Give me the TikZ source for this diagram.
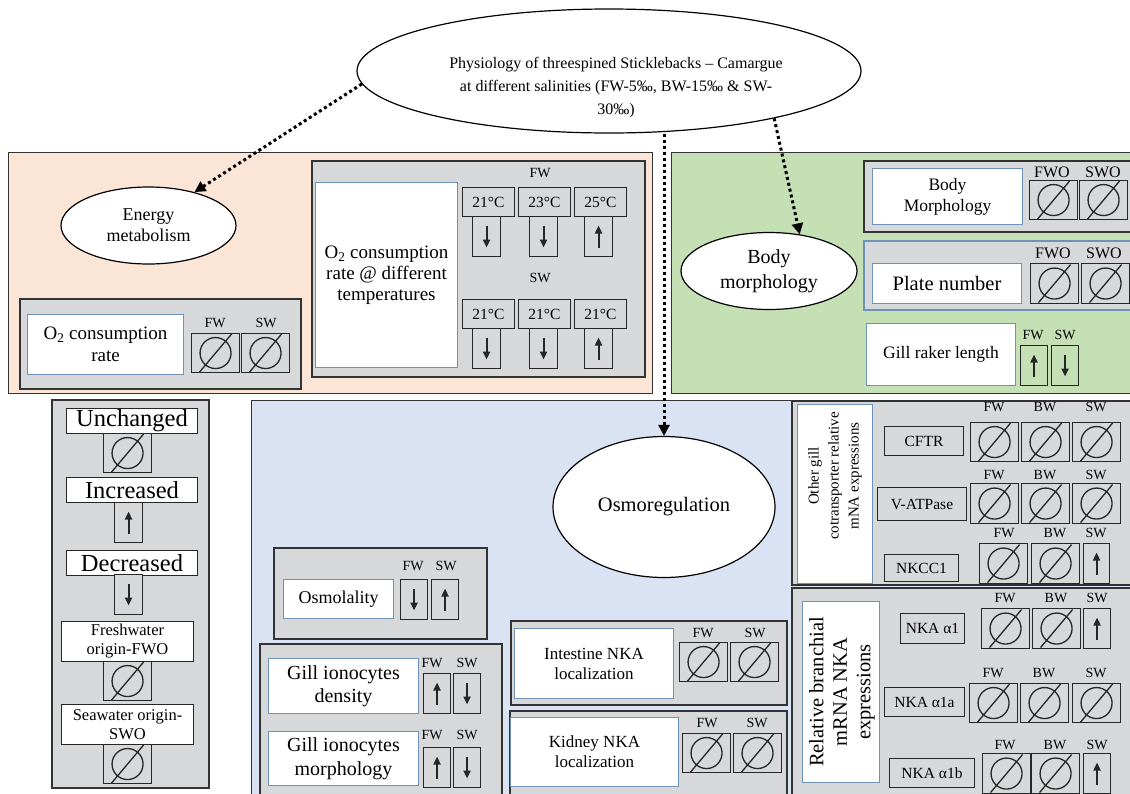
\documentclass[tikz,border=0pt]{standalone}
\usepackage{fontspec}
\setmainfont{Liberation Serif}
\usetikzlibrary{shapes.geometric,arrows.meta}
\definecolor{peach}{HTML}{FBE5D6}
\definecolor{leaf}{HTML}{C5E0B4}
\definecolor{sky}{HTML}{DAE3F3}
\definecolor{panelgray}{HTML}{D6D8D9}
\definecolor{boxblue}{HTML}{6F93B8}
\tikzset{
  fs/.style 2 args={font=\fontsize{#1}{#2}\selectfont},
  region/.style={draw=black!80, line width=1pt},
  panel/.style={draw=black!80, fill=panelgray, line width=1.2pt},
  oval/.style={ellipse, draw=black, fill=white, line width=1.2pt, inner sep=0pt, align=center},
  namebox/.style={draw=boxblue, fill=white, line width=1pt, anchor=north west, inner sep=0pt, align=center},
  keybox/.style={draw=black!85, fill=white, line width=1pt, anchor=north west, inner sep=0pt, align=center},
  genebox/.style={draw=black!85, fill=panelgray, line width=1pt, anchor=north west, inner sep=0pt, fs={15.5}{15.5}},
  tempbox/.style={genebox, minimum width=52pt, minimum height=29pt},
  tag/.style={inner sep=0pt, fs={14}{14}},
  cell/.style={draw=black!85, fill=panelgray, line width=1.1pt, anchor=north west, inner sep=0pt},
  nullcell/.style={cell, minimum width=48pt, minimum height=39pt, path picture={
      \draw[line width=1.3pt] (path picture bounding box.center) circle (15.5pt);
      \draw[line width=1.3pt] ([shift={(-16pt,-19pt)}]path picture bounding box.center)
        -- ([shift={(16pt,19pt)}]path picture bounding box.center);}},
  upcell/.style={cell, minimum width=27pt, minimum height=40pt, path picture={
      \draw[line width=2pt, -{Triangle[length=8pt,width=7pt]}]
        ([yshift=-11pt]path picture bounding box.center) -- ([yshift=11pt]path picture bounding box.center);}},
  downcell/.style={cell, minimum width=27pt, minimum height=40pt, path picture={
      \draw[line width=2pt, -{Triangle[length=8pt,width=7pt]}]
        ([yshift=11pt]path picture bounding box.center) -- ([yshift=-11pt]path picture bounding box.center);}},
  link/.style={line width=3pt, dash pattern=on 3pt off 3pt, -{Triangle[length=11pt,width=11pt]}}
}
\begin{document}
\begin{tikzpicture}[x=1pt,y=-1pt]
\useasboundingbox (0,0) rectangle (1130,793);
\clip (0,0) rectangle (1130,793);
\fill[white] (0,0) rectangle (1130,793);
% title
\node[oval, minimum width=504pt, minimum height=124pt] (phys) at (609,71) {};
\node[fs={16}{23}, align=center] (physlabel) at (616,88) {Physiology of threespined Sticklebacks -- Camargue\\at different salinities (FW-5‰, BW-15‰ \& SW-\\30‰)};
% three areas
\draw[region, fill=peach] (8,152) rectangle (652,393);
\draw[region, fill=leaf] (671,152) rectangle (1140,393);
\draw[region, fill=sky] (251,400) rectangle (1140,800);
% energy metabolism
\node[oval, minimum width=175pt, minimum height=77pt, fs={18}{21}] (energy) at (148.5,225.5) {Energy\\metabolism};
\draw[panel] (20,299) rectangle (301,389);
\node[namebox, minimum width=156pt, minimum height=60pt, fs={19}{22}] (o2rate) at (27,314) {O\textsubscript{2} consumption\\rate};
\node[tag] (o2fw) at (215,323) {FW};
\node[tag] (o2sw) at (266,323) {SW};
\node[nullcell] (o2fwc) at (191,333) {};
\node[nullcell] (o2swc) at (241,333) {};
\draw[panel] (312,161) rectangle (645,377);
\node[namebox, minimum width=142pt, minimum height=185pt, fs={19}{21}] (o2temp) at (315,182) {O\textsubscript{2} consumption\\rate @ different\\temperatures};
\node[tag] (tfw) at (540,173) {FW};
\node[tempbox] (fwa) at (462,187) {21°C};
\node[tempbox] (fwb) at (518,187) {23°C};
\node[tempbox] (fwc) at (574,187) {25°C};
\node[downcell, minimum width=28pt] (fwac) at (472,216) {};
\node[downcell, minimum width=28pt] (fwbc) at (529,216) {};
\node[upcell, minimum width=28pt] (fwcc) at (584,216) {};
\node[tag] (tsw) at (540,278) {SW};
\node[tempbox] (swa) at (462,299) {21°C};
\node[tempbox] (swb) at (518,299) {21°C};
\node[tempbox] (swc) at (574,299) {21°C};
\node[downcell, minimum width=28pt] (swac) at (472,328) {};
\node[downcell, minimum width=28pt] (swbc) at (529,328) {};
\node[upcell, minimum width=28pt] (swcc) at (584,328) {};
% body morphology
\node[oval, minimum width=176pt, minimum height=77pt, fs={20}{25}] (body) at (769,271) {Body\\morphology};
\draw[panel] (864,161) rectangle (1140,232);
\node[namebox, minimum width=150pt, minimum height=56pt, fs={17.5}{21}] (shape) at (872,168) {Body\\Morphology};
\node[tag, fs={16}{16}] (shapefwo) at (1052,172) {FWO};
\node[tag, fs={16}{16}] (shapeswo) at (1103,172) {SWO};
\node[nullcell] (shapefwoc) at (1029,180) {};
\node[nullcell] (shapeswoc) at (1079,180) {};
\draw[panel, draw=boxblue] (864,241) rectangle (1140,310);
\node[namebox, minimum width=149pt, minimum height=40pt, fs={20.5}{20.5}] (plates) at (872,263) {Plate number};
\node[tag, fs={16}{16}] (platesfwo) at (1053,253) {FWO};
\node[tag, fs={16}{16}] (platesswo) at (1104,253) {SWO};
\node[nullcell, minimum height=40pt] (platesfwoc) at (1030,263) {};
\node[nullcell, minimum height=40pt] (platesswoc) at (1081,263) {};
\node[namebox, minimum width=149pt, minimum height=62pt, fs={17.5}{17.5}] (raker) at (866,323) {Gill raker length};
\node[tag] (rakerfw) at (1033,335) {FW};
\node[tag] (rakersw) at (1065,335) {SW};
\node[upcell, fill=none] (rakerfwc) at (1020,345) {};
\node[downcell, fill=none] (rakerswc) at (1051,345) {};
% key
\draw[panel, line width=2pt] (52,400) rectangle (209,788);
\node[keybox, minimum width=131pt, minimum height=25pt, fs={24.5}{24.5}] (unchanged) at (66,408) {Unchanged};
\node[nullcell] (unchangedc) at (103,433) {};
\node[keybox, minimum width=131pt, minimum height=25pt, fs={24.5}{24.5}] (increased) at (66,477) {Increased};
\node[upcell, minimum width=28pt] (increasedc) at (114,502) {};
\node[keybox, minimum width=131pt, minimum height=25pt, fs={24.5}{24.5}] (decreased) at (66,550) {Decreased};
\node[downcell, minimum width=28pt] (decreasedc) at (114,574) {};
\node[keybox, minimum width=132pt, minimum height=40pt, fs={16.5}{19}] (fwokey) at (61,621) {Freshwater\\origin-FWO};
\node[nullcell] (fwokeyc) at (103,661) {};
\node[keybox, minimum width=132pt, minimum height=40pt, fs={16.5}{19}] (swokey) at (61,704) {Seawater origin-\\SWO};
\node[nullcell] (swokeyc) at (103,744) {};
% osmoregulation
\node[oval, minimum width=222pt, minimum height=141pt, fs={20.5}{20.5}] (osmo) at (664,507) {Osmoregulation};
\draw[panel] (274,548) rectangle (487,639);
\node[namebox, minimum width=110pt, minimum height=39pt, fs={18}{18}] (osmolality) at (283,579) {Osmolality};
\node[tag] (osmfw) at (413,566) {FW};
\node[tag] (osmsw) at (446,566) {SW};
\node[downcell] (osmfwc) at (400,579) {};
\node[upcell] (osmswc) at (431,579) {};
\draw[panel] (260,644) rectangle (502,800);
\node[namebox, minimum width=150pt, minimum height=55pt, fs={20}{23.5}] (density) at (268,658) {Gill ionocytes\\density};
\node[tag] (densfw) at (432,663) {FW};
\node[tag] (denssw) at (467,663) {SW};
\node[upcell] (densfwc) at (423,673) {};
\node[downcell] (densswc) at (453,673) {};
\node[namebox, minimum width=150pt, minimum height=54pt, fs={20}{23.5}] (morph) at (268,731) {Gill ionocytes\\morphology};
\node[tag] (morphfw) at (432,735) {FW};
\node[tag] (morphsw) at (467,735) {SW};
\node[upcell] (morphfwc) at (423,747) {};
\node[downcell] (morphswc) at (453,747) {};
\draw[panel] (511,621) rectangle (787,705);
\node[namebox, minimum width=159pt, minimum height=70pt, fs={17}{20}] (intestine) at (514,628) {Intestine NKA\\localization};
\node[tag] (intfw) at (703,633) {FW};
\node[tag] (intsw) at (755,633) {SW};
\node[nullcell] (intfwc) at (679,642) {};
\node[nullcell] (intswc) at (730,642) {};
\draw[panel] (510,711) rectangle (787,800);
\node[namebox, minimum width=168pt, minimum height=69pt, fs={17}{20}] (kidney) at (510,717) {Kidney NKA\\localization};
\node[tag] (kidfw) at (707,723) {FW};
\node[tag] (kidsw) at (757,723) {SW};
\node[nullcell] (kidfwc) at (682,733) {};
\node[nullcell] (kidswc) at (733,733) {};
% other gill cotransporters
\draw[panel] (792,401) rectangle (1140,585);
\node[namebox, minimum width=75pt, minimum height=179pt] (othergill) at (797,404) {};
\node[rotate=90, align=center, fs={15}{20}] (othergilltext) at (835,476) {Other gill\\cotransporter relative\\mNA expressions};
\node[genebox, minimum width=79pt, minimum height=29pt] (cftr) at (884,426) {CFTR};
\node[tag] (cftrfw) at (994,407) {FW};
\node[tag] (cftrbw) at (1045,407) {BW};
\node[tag] (cftrsw) at (1096,407) {SW};
\node[nullcell] (cftrfwc) at (970,422) {};
\node[nullcell] (cftrbwc) at (1021,422) {};
\node[nullcell] (cftrswc) at (1072,422) {};
\node[genebox, minimum width=89pt, minimum height=33pt] (vatpase) at (877,487) {V-ATPase};
\node[tag] (vatpfw) at (994,475) {FW};
\node[tag] (vatpbw) at (1045,475) {BW};
\node[tag] (vatpsw) at (1096,475) {SW};
\node[nullcell, minimum height=40pt] (vatpfwc) at (970,483) {};
\node[nullcell, minimum height=40pt] (vatpbwc) at (1021,483) {};
\node[nullcell, minimum height=40pt] (vatpswc) at (1072,483) {};
\node[genebox, minimum width=74pt, minimum height=27pt] (nkcc) at (884,554) {NKCC1};
\node[tag] (nkccfw) at (1004,533) {FW};
\node[tag] (nkccbw) at (1055,533) {BW};
\node[tag] (nkccsw) at (1096,533) {SW};
\node[nullcell, minimum height=40pt] (nkccfwc) at (979,543) {};
\node[nullcell, minimum height=40pt] (nkccbwc) at (1031,543) {};
\node[upcell, minimum width=26pt] (nkccswc) at (1083,543) {};
% branchial NKA
\draw[panel] (792,588) rectangle (1140,800);
\node[namebox, minimum width=77pt, minimum height=181pt] (branchial) at (802,601) {};
\node[rotate=90, align=center, fs={20.5}{23.5}] (branchialtext) at (842,692) {Relative branchial\\mRNA NKA\\expressions};
\node[genebox, minimum width=64pt, minimum height=30pt] (nkaa) at (900,613) {NKA α1};
\node[tag] (nkaafw) at (1005,598) {FW};
\node[tag] (nkaabw) at (1056,598) {BW};
\node[tag] (nkaasw) at (1097,598) {SW};
\node[nullcell, minimum height=40pt] (nkaafwc) at (981,608) {};
\node[nullcell, minimum height=40pt] (nkaabwc) at (1032,608) {};
\node[upcell, minimum width=27pt] (nkaaswc) at (1083,608) {};
\node[genebox, minimum width=80pt, minimum height=29pt] (nkab) at (884,687) {NKA α1a};
\node[tag] (nkabfw) at (993,673) {FW};
\node[tag] (nkabbw) at (1044,673) {BW};
\node[tag] (nkabsw) at (1096,673) {SW};
\node[nullcell] (nkabfwc) at (969,683) {};
\node[nullcell] (nkabbwc) at (1020,683) {};
\node[nullcell] (nkabswc) at (1072,683) {};
\node[genebox, minimum width=85pt, minimum height=29pt] (nkac) at (889,758) {NKA α1b};
\node[tag] (nkacfw) at (1005,745) {FW};
\node[tag] (nkacbw) at (1055,745) {BW};
\node[tag] (nkacsw) at (1097,745) {SW};
\node[nullcell, minimum height=40pt] (nkacfwc) at (982,753) {};
\node[nullcell, minimum height=40pt] (nkacbwc) at (1031,753) {};
\node[upcell, minimum width=27pt] (nkacswc) at (1083,753) {};
% dotted links
\draw[link] (phys.183) -- (energy.36);
\draw[link] (osmo.north |- phys.south) -- (osmo.north);
\draw[link] (phys.344) -- (body.50);
\end{tikzpicture}
\end{document}
